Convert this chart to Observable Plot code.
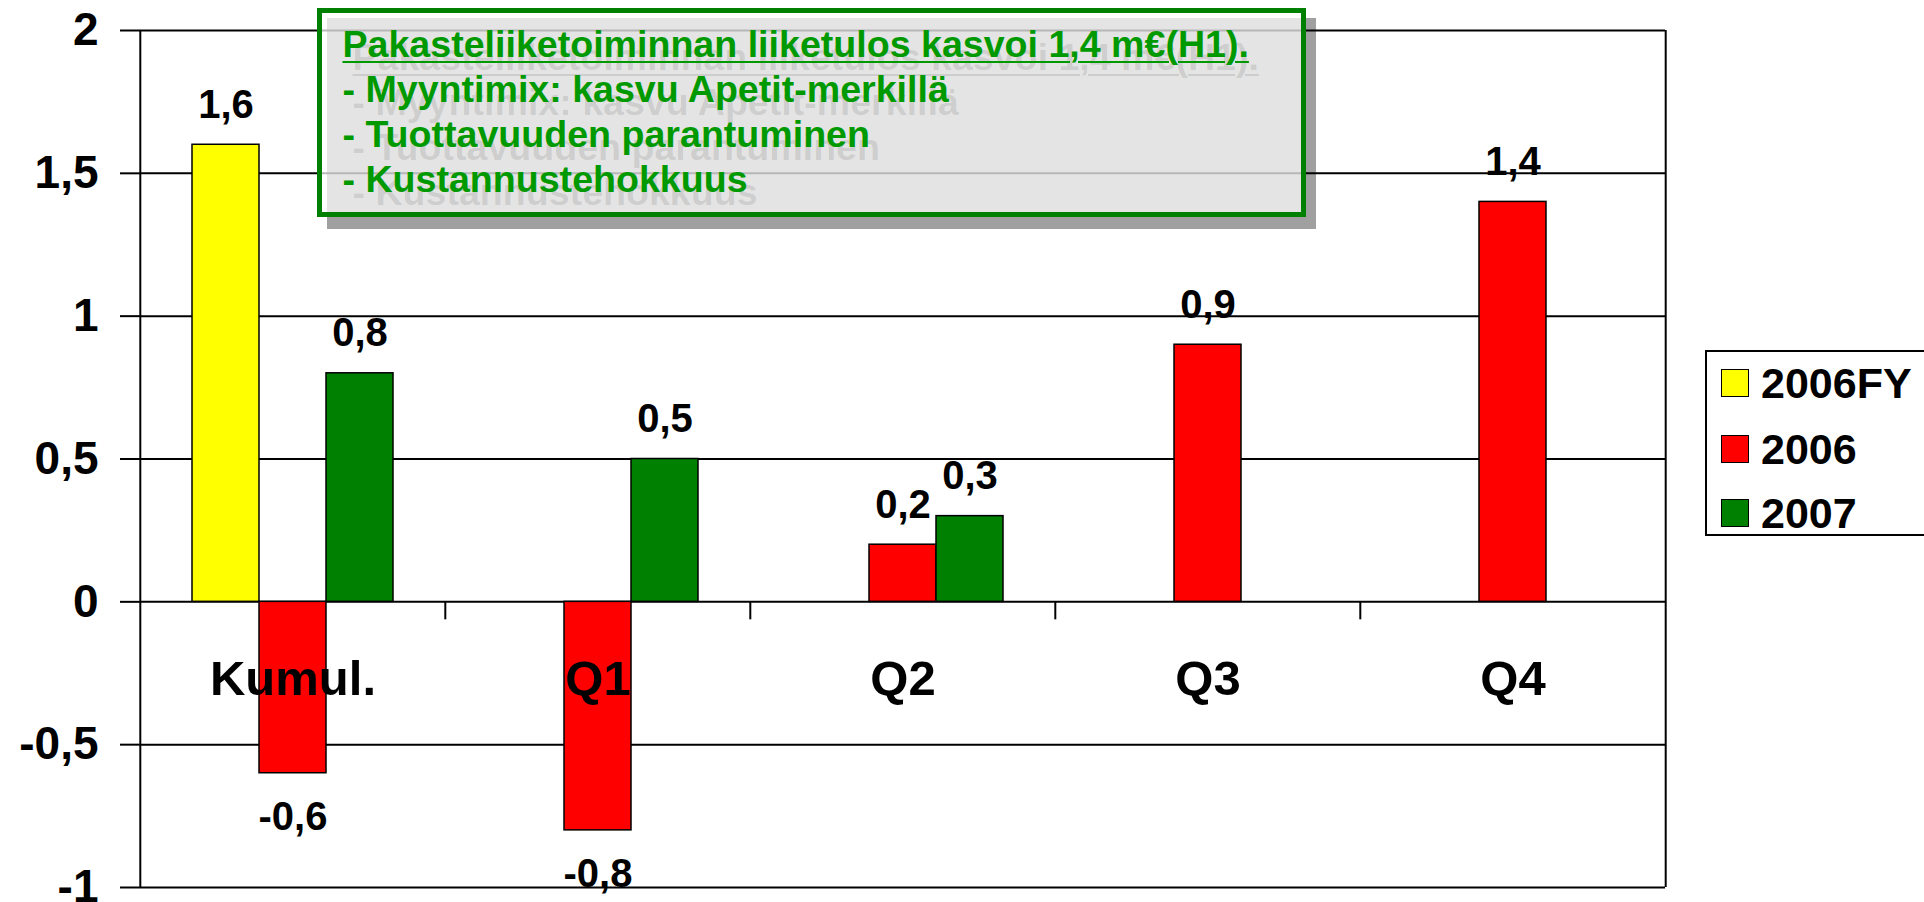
<!DOCTYPE html>
<html>
<head>
<meta charset="utf-8">
<script src="https://cdn.jsdelivr.net/npm/d3@7"></script>
<script src="https://cdn.jsdelivr.net/npm/@observablehq/plot@0.6"></script>
<style>
html, body { margin: 0; padding: 0; background: #fff; }
#wrap { position: relative; width: 1924px; height: 902px; overflow: hidden; font-family: "Liberation Sans", Arial, sans-serif; font-weight: bold; }
#chart { position: absolute; left: 0; top: 0; }
#shadow { position: absolute; left: 327px; top: 18px; width: 989px; height: 211px; background: rgba(0,0,0,0.373); }
#note { position: absolute; left: 317px; top: 8px; width: 989px; height: 209px; box-sizing: border-box; border: 5.5px solid #008000; background: rgba(255,255,255,0.716); padding: 9px 0 0 20.5px; color: #009900; font-size: 37.6px; line-height: 45px; white-space: nowrap; text-shadow: 10px 13px 0 rgba(0,0,0,0.1); }
#note .l1 { text-decoration: underline; text-decoration-thickness: 2px; text-underline-offset: 4px; }
#legend { position: absolute; left: 1705px; top: 350px; width: 240px; height: 186px; box-sizing: border-box; border: 2px solid #000; background: #fff; }
.item { position: absolute; left: 14px; height: 44px; display: flex; align-items: center; font-size: 43px; color: #000; white-space: nowrap; }
.sw { width: 28px; height: 28px; box-sizing: border-box; border: 1.5px solid #000; margin-right: 12px; flex: none; }
</style>
</head>
<body>
<div id="wrap">
  <div id="chart"></div>
  <div id="shadow"></div>
  <div id="note"></div>
  <div id="legend"></div>
</div>
<script>
// ---- data ----
const categories = ["Kumul.", "Q1", "Q2", "Q3", "Q4"];
const seriesNames = ["2006FY", "2006", "2007"];
const values2006FY = [1.6, null, null, null, null];
const values2006 = [-0.6, -0.8, 0.2, 0.9, 1.4];
const values2007 = [0.8, 0.5, 0.3, null, null];
const seriesColors = ["#ffff00", "#ff0000", "#008000"];
const yTicks = [-1, -0.5, 0, 0.5, 1, 1.5, 2];
const noteLines = [
  "Pakasteliiketoiminnan liiketulos kasvoi 1,4 m€(H1).",
  "- Myyntimix: kasvu Apetit-merkillä",
  "- Tuottavuuden parantuminen",
  "- Kustannustehokkuus"
];

// ---- layout ----
const W = 1924, H = 902, mL = 139, mR = 258, mT = 30, mB = 15;
const step = (W - mL - mR) / categories.length;
const fmt = v => String(v).replace(".", ",");
const seriesValues = [values2006FY, values2006, values2007];

const rows = [];
seriesNames.forEach((s, si) => {
  seriesValues[si].forEach((v, ci) => {
    if (v != null) rows.push({category: categories[ci], series: s, value: v});
  });
});

const lineStyle = {stroke: "#000", strokeWidth: 2};
const plot = Plot.plot({
  width: W, height: H,
  marginLeft: mL, marginRight: mR, marginTop: mT, marginBottom: mB,
  style: {fontFamily: '"Liberation Sans", Arial, sans-serif', background: "transparent", color: "#000"},
  fx: {domain: categories, padding: 0, axis: null},
  x: {domain: seriesNames, paddingInner: 0, paddingOuter: 0.75, axis: null},
  y: {domain: [yTicks[0], yTicks[yTicks.length - 1]], axis: null},
  color: {domain: seriesNames, range: seriesColors},
  marks: [
    Plot.ruleY(yTicks, lineStyle),
    Plot.ruleX([categories[0]], {fx: d => d, x: null, dx: -step / 2, ...lineStyle}),
    Plot.ruleX([categories[categories.length - 1]], {fx: d => d, x: null, dx: step / 2, ...lineStyle}),
    Plot.ruleX(categories.slice(1), {fx: d => d, x: null, y1: () => 0, y2: () => 0, insetBottom: -18, dx: -step / 2, ...lineStyle}),
    Plot.barY(rows, {fx: "category", x: "series", y: "value", fill: "series", stroke: "#000", strokeWidth: 1.5}),
    Plot.text(rows.filter(d => d.value >= 0), {fx: "category", x: "series", y: "value", text: d => fmt(d.value), dy: -40, fontSize: 40, fontWeight: "bold", fill: "#000"}),
    Plot.text(rows.filter(d => d.value < 0), {fx: "category", x: "series", y: "value", text: d => fmt(d.value), dy: 44, fontSize: 40, fontWeight: "bold", fill: "#000"}),
    Plot.text(categories, {fx: d => d, y: () => 0, text: d => d, dy: 77, fontSize: 49, fontWeight: "bold", fill: "#000"}),
    Plot.axisY({ticks: yTicks, label: null, tickSize: 20, tickPadding: 22, fontSize: 46, fontWeight: "bold", tickFormat: fmt, stroke: "#000", strokeWidth: 2, fill: "#000"})
  ]
});
document.getElementById("chart").appendChild(plot);

// ---- annotation box ----
const note = document.getElementById("note");
noteLines.forEach((t, i) => {
  const div = document.createElement("div");
  const span = document.createElement("span");
  span.textContent = t;
  if (i === 0) span.className = "l1";
  div.appendChild(span);
  note.appendChild(div);
});

// ---- legend ----
const legend = document.getElementById("legend");
const rowCenters = [31, 97, 161];
seriesNames.forEach((s, i) => {
  const item = document.createElement("div");
  item.className = "item";
  item.style.top = (rowCenters[i] - 22) + "px";
  const sw = document.createElement("div");
  sw.className = "sw";
  sw.style.background = seriesColors[i];
  const label = document.createElement("span");
  label.textContent = s;
  item.appendChild(sw);
  item.appendChild(label);
  legend.appendChild(item);
});
</script>
</body>
</html>
